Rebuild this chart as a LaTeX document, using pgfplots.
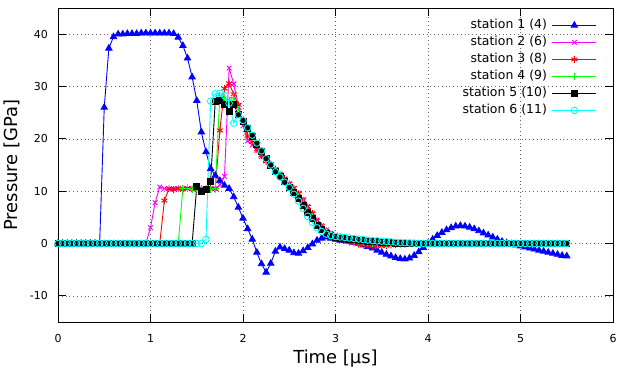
\documentclass[border=0pt]{standalone}
\usepackage{fontspec}
\setmainfont{DejaVu Sans}
\usepackage{pgfplots}
\usepackage{pgfplotstable}
\pgfplotsset{compat=1.18}
\definecolor{cone}{RGB}{0,0,255}
\definecolor{ctwo}{RGB}{255,0,255}
\definecolor{cthree}{RGB}{255,0,0}
\definecolor{cfour}{RGB}{0,255,0}
\definecolor{cfive}{RGB}{0,0,0}
\definecolor{csix}{RGB}{0,255,255}

\pgfplotstableread{
t s1 s2 s3 s4 s5 s6
0.00 0 0 0 0 0 0
0.05 0 0 0 0 0 0
0.10 0 0 0 0 0 0
0.15 0 0 0 0 0 0
0.20 0 0 0 0 0 0
0.25 0 0 0 0 0 0
0.30 0 0 0 0 0 0
0.35 0 0 0 0 0 0
0.40 0 0 0 0 0 0
0.45 0 0 0 0 0 0
0.50 26.0 0 0 0 0 0
0.55 37.3 0 0 0 0 0
0.60 39.5 0 0 0 0 0
0.65 40.0 0 0 0 0 0
0.70 40.0 0 0 0 0 0
0.75 40.1 0 0 0 0 0
0.80 40.1 0 0 0 0 0
0.85 40.1 0 0 0 0 0
0.90 40.2 0 0 0 0 0
0.95 40.2 0 0 0 0 0
1.00 40.2 3.0 0 0 0 0
1.05 40.2 7.8 0 0 0 0
1.10 40.2 10.8 0 0 0 0
1.15 40.2 10.5 8.2 0 0 0
1.20 40.2 10.4 10.5 0 0 0
1.25 40.1 10.5 10.3 0 0 0
1.30 39.4 10.5 10.5 0 0 0
1.35 37.8 10.4 10.4 10.5 0 0
1.40 35.4 10.5 10.6 10.6 0 0
1.45 31.8 10.5 10.4 10.4 0 0
1.50 27.3 10.4 10.5 10.5 10.9 0
1.55 21.3 10.5 10.5 10.6 10.0 0
1.60 17.5 10.4 10.4 10.5 10.3 0.8
1.65 14.3 10.5 10.5 10.4 11.8 27.2
1.70 13.0 10.5 10.4 10.5 27.2 28.6
1.75 12.0 11.2 21.6 28.2 27.4 28.7
1.80 11.1 12.8 29.6 27.8 26.5 28.2
1.85 10.5 33.5 30.6 27.4 25.2 26.8
1.90 8.9 30.5 28.5 28.0 26.5 23.0
1.95 6.9 26.2 26.5 25.6 24.6 24.6
2.00 4.8 22.5 23.2 23.6 23.3 23.5
2.05 2.8 19.6 20.6 22.0 22.0 22.1
2.10 0.8 18.8 19.4 20.6 20.5 20.7
2.15 -1.7 17.8 18.0 19.1 19.0 19.2
2.20 -3.9 16.6 16.8 17.6 17.6 17.7
2.25 -5.5 15.8 15.7 16.3 16.2 16.2
2.30 -3.8 15.1 15.2 15.1 15.0 15.0
2.35 -1.5 14.1 14.2 13.9 13.8 13.7
2.40 -0.7 13.3 13.2 12.9 12.8 12.7
2.45 -1.0 12.3 12.4 11.9 11.8 11.7
2.50 -1.3 11.4 11.4 11.0 10.8 10.7
2.55 -1.8 10.5 10.6 10.0 9.7 9.4
2.60 -1.9 9.6 9.5 9.0 8.6 8.1
2.65 -1.4 8.4 8.3 7.8 7.3 6.7
2.70 -0.8 7.1 7.0 6.5 6.0 5.2
2.75 -0.1 5.8 5.7 5.2 4.7 4.0
2.80 0.6 4.5 4.4 3.9 3.5 3.0
2.85 1.0 3.4 3.3 2.9 2.6 2.3
2.90 1.2 2.6 2.4 2.1 1.9 1.8
2.95 1.0 2.0 1.8 1.6 1.5 1.5
3.00 0.8 1.6 1.3 1.3 1.2 1.35
3.05 0.6 1.1 0.9 1.1 1.05 1.25
3.10 0.5 0.8 0.6 0.9 0.95 1.15
3.15 0.4 0.5 0.3 0.7 0.85 1.05
3.20 0.2 0.3 0.1 0.5 0.75 0.95
3.25 0.0 0.1 -0.1 0.35 0.65 0.85
3.30 -0.3 -0.1 -0.3 0.2 0.55 0.75
3.35 -0.6 -0.2 -0.4 0.1 0.45 0.65
3.40 -0.9 -0.3 -0.5 0.0 0.35 0.55
3.45 -1.3 -0.3 -0.5 -0.1 0.3 0.5
3.50 -1.7 -0.3 -0.5 -0.1 0.25 0.45
3.55 -2.1 -0.3 -0.4 -0.1 0.2 0.4
3.60 -2.4 -0.2 -0.3 -0.1 0.15 0.3
3.65 -2.7 -0.2 -0.2 0.0 0.1 0.25
3.70 -2.9 -0.1 -0.1 0.0 0.05 0.2
3.75 -3.0 -0.1 -0.1 0 0 0.15
3.80 -2.8 0 0 0 0 0.1
3.85 -2.3 0 0 0 0 0.05
3.90 -1.6 0 0 0 0 0
3.95 -0.8 0 0 0 0 0
4.00 0.0 0 0 0 0 0
4.05 0.8 0 0 0 0 0
4.10 1.5 0 0 0 0 0
4.15 2.1 0 0 0 0 0
4.20 2.6 0 0 0 0 0
4.25 3.0 0 0 0 0 0
4.30 3.3 0 0 0 0 0
4.35 3.4 0 0 0 0 0
4.40 3.3 0 0 0 0 0
4.45 3.1 0 0 0 0 0
4.50 2.8 0 0 0 0 0
4.55 2.4 0 0 0 0 0
4.60 2.0 0 0 0 0 0
4.65 1.6 0 0 0 0 0
4.70 1.2 0 0 0 0 0
4.75 0.8 0 0 0 0 0
4.80 0.4 0 0 0 0 0
4.85 0.1 0 0 0 0 0
4.90 -0.1 0 0 0 0 0
4.95 -0.3 0 0 0 0 0
5.00 -0.5 0 0 0 0 0
5.05 -0.7 0 0 0 0 0
5.10 -0.9 0 0 0 0 0
5.15 -1.1 0 0 0 0 0
5.20 -1.3 0 0 0 0 0
5.25 -1.5 0 0 0 0 0
5.30 -1.7 0 0 0 0 0
5.35 -1.9 0 0 0 0 0
5.40 -2.1 0 0 0 0 0
5.45 -2.3 0 0 0 0 0
5.50 -2.4 0 0 0 0 0
}\stations

\begin{document}
\begin{tikzpicture}
\begin{axis}[
  scale only axis, width=555bp, height=314bp,
  xmin=0, xmax=6, ymin=-15, ymax=45,
  xtick={0,1,...,6}, ytick={-10,0,10,20,30,40},
  tick pos=both, tick align=inside, major tick length=8bp,
  tick style={black, line width=0.8bp},
  axis line style={line width=0.8bp},
  grid=major,
  grid style={black!60, line width=0.6bp, dash pattern=on 0.8bp off 3bp},
  /pgf/number format/assume math mode=true,
  ticklabel style={font=\fontsize{11}{13}\selectfont},
  xticklabel style={anchor=north, inner sep=0pt, yshift=-12bp},
  yticklabel style={anchor=east, inner sep=0pt, xshift=-10bp},
  xlabel={Time [µs]}, ylabel={Pressure [GPa]},
  label style={font=\fontsize{18}{21}\selectfont},
  xlabel style={at={(axis description cs:0.5,-0.118)}, anchor=center},
  ylabel style={at={(axis description cs:-0.0829,0.5)}, anchor=center},
  clip=false,
  legend plot pos=right,
  legend cell align=right,
  legend style={draw=none, fill=none, at={(1,1)}, anchor=north east,
    xshift=-16bp, yshift=-11bp, inner sep=0pt, row sep=4.5bp, column sep=5bp,
    font=\fontsize{12.5}{14}\selectfont,
    nodes={inner sep=0pt, text height=9.5bp, text depth=3bp}},
  legend image code/.code={\draw[mark repeat=2,mark phase=2]
    plot coordinates {(0bp,0bp) (22bp,0bp) (44bp,0bp)};},
  every axis plot/.append style={line width=0.9bp, mark options={solid}},
]
\addplot[cone, mark=triangle*, mark size=3.6bp] table[x=t, y=s1] {\stations};
\addlegendentry{station 1 (4)}
\addplot[ctwo, mark=x, mark size=3.3bp] table[x=t, y=s2] {\stations};
\addlegendentry{station 2 (6)}
\addplot[cthree, mark=asterisk, mark size=3.5bp] table[x=t, y=s3] {\stations};
\addlegendentry{station 3 (8)}
\addplot[cfour, mark=+, mark size=3.5bp] table[x=t, y=s4] {\stations};
\addlegendentry{station 4 (9)}
\addplot[cfive, mark=square*, mark size=3bp] table[x=t, y=s5] {\stations};
\addlegendentry{station 5 (10)}
\addplot[csix, mark=o, mark size=3.3bp] table[x=t, y=s6] {\stations};
\addlegendentry{station 6 (11)}
\end{axis}
\pgfresetboundingbox
\path ([shift={(-58bp,-47bp)}]current axis.south west) rectangle ([shift={(19bp,8bp)}]current axis.north east);
\end{tikzpicture}
\end{document}
